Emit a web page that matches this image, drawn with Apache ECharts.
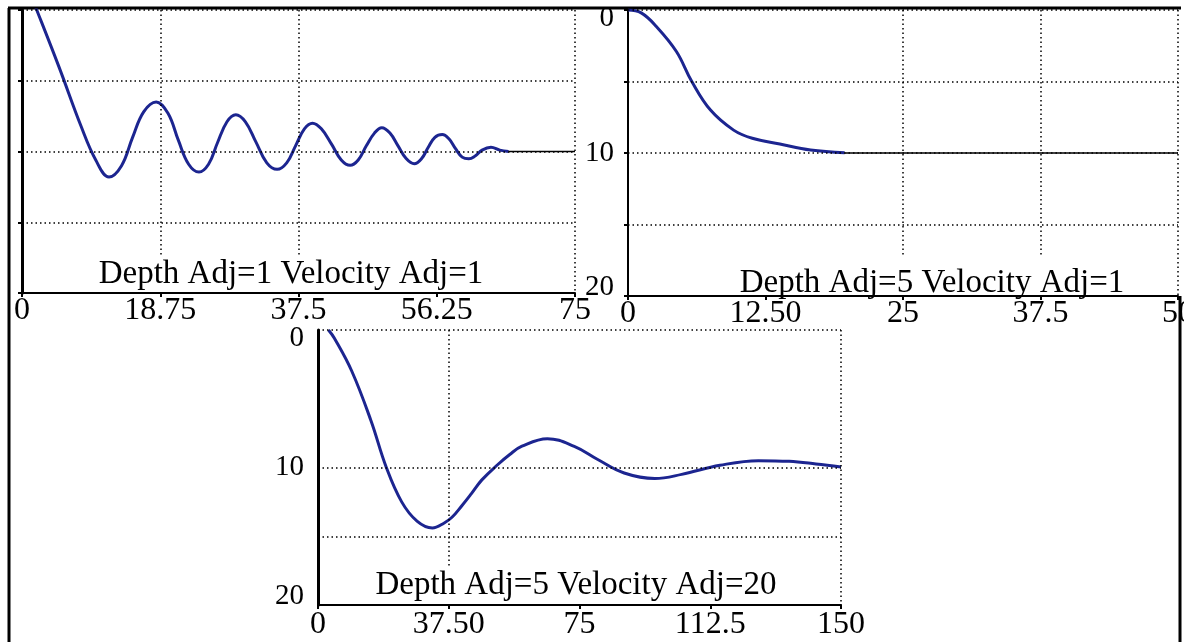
<!DOCTYPE html>
<html>
<head>
<meta charset="utf-8">
<title>Depth Adj / Velocity Adj</title>
<script src="https://cdn.jsdelivr.net/npm/echarts@6/dist/echarts.min.js"></script>
<style>
  html, body { margin: 0; padding: 0; background: #fff; }
  #main { width: 1184px; height: 642px; }
</style>
</head>
<body>
<div id="main"></div>
<script>
// three runs of the same damped response, depth goes down (0 at the top)
var titles = ['Depth Adj=1 Velocity Adj=1', 'Depth Adj=5 Velocity Adj=1', 'Depth Adj=5 Velocity Adj=20'];

// x axis of each panel
var xMax = [75, 50, 150];
var xStep = [18.75, 12.5, 37.5];
var xLabels = [
  ['0', '18.75', '37.5', '56.25', '75'],
  ['0', '12.50', '25', '37.5', '50'],
  ['0', '37.50', '75', '112.5', '150']
];

// dotted grid lines (x positions that are drawn, depths that are drawn)
var vGrid = [[18.75, 37.5], [25, 37.5], [37.5]];
var hGrid = [[0, 5, 10, 15], [0, 5, 10, 15], [0, 10, 15]];

// panel 1 : Depth Adj=1 Velocity Adj=1
var timeA = [0, 2, 5, 8, 10, 11.8, 13.5, 15, 16.5, 18.2, 19.8, 21.2, 22.6, 24, 25.3, 26.5, 27.8, 29,
  30.3, 31.7, 33.2, 34.6, 35.9, 37.1, 38.3, 39.4, 40.6, 42, 43.3, 44.5, 45.6, 46.7, 47.8, 48.8,
  49.9, 51, 52.1, 53.2, 54.2, 55.1, 56, 57, 57.9, 58.8, 59.7, 60.6, 61.5, 62.4, 63.6, 64.8, 66];
var depthA = [-2.6, 0, 4, 8.2, 10.6, 11.8, 11, 9, 7.2, 6.5, 7.3, 9.2, 10.9, 11.45, 10.9, 9.4, 7.9, 7.4,
  7.9, 9.3, 10.8, 11.26, 10.8, 9.6, 8.4, 8, 8.4, 9.5, 10.6, 10.98, 10.6, 9.6, 8.7, 8.32,
  8.7, 9.6, 10.5, 10.87, 10.5, 9.7, 9, 8.8, 9.1, 9.8, 10.4, 10.52, 10.3, 9.9, 9.7, 9.9, 10];
var tailTimeA = [66, 75];
var tailDepthA = [10, 10];

// panel 2 : Depth Adj=5 Velocity Adj=1
var timeB = [0, 1.2, 2.6, 4.4, 5.8, 7.5, 9.6, 11.3, 13.8, 16.6, 19.7];
var depthB = [0, 0.2, 1.17, 2.9, 5, 7, 8.4, 8.97, 9.37, 9.79, 9.98];
var tailTimeB = [19.7, 50];
var tailDepthB = [10, 10];

// panel 3 : Depth Adj=5 Velocity Adj=20
var timeC = [3, 4.7, 9.7, 15.2, 19.6, 24, 28.4, 32.8, 36.1, 38.5, 41.2, 44, 47, 51.5, 55, 58.5, 65.8, 73.5,
  80.1, 87.8, 96.6, 104.3, 115.3, 126.3, 135.1, 142.8, 150];
var depthC = [0, 0.6, 3, 6.6, 10, 12.5, 13.9, 14.4, 14.05, 13.6, 12.8, 11.9, 10.9, 9.8, 9.05, 8.45, 7.9, 8.46,
  9.4, 10.4, 10.8, 10.5, 9.84, 9.5, 9.55, 9.74, 9.96];
var tailTimeC = [];
var tailDepthC = [];

var times = [timeA, timeB, timeC];
var depths = [depthA, depthB, depthC];
var tailTimes = [tailTimeA, tailTimeB, tailTimeC];
var tailDepths = [tailDepthA, tailDepthB, tailDepthC];

var serif = "'Liberation Serif', 'DejaVu Serif', serif";
var blue = '#1c2590';

function pairs(xs, ys) {
  return xs.map(function (x, i) { return [x, ys[i]]; });
}

// vertical lines stop above the caption, right edge and horizontals go all the way
function gridLines(i) {
  var d = [];
  vGrid[i].forEach(function (x) {
    d.push([{ coord: [x, 0] }, { coord: [x, 17.3] }]);
  });
  d.push({ xAxis: xMax[i] });
  hGrid[i].forEach(function (y) {
    d.push({ yAxis: y });
  });
  return d;
}

var grids = [
  { left: 22, top: 10, width: 553, height: 283 },
  { left: 628, top: 10, width: 550, height: 286 },
  { left: 318, top: 330, width: 523, height: 275 }
];
grids.forEach(function (g) { g.outerBoundsMode = 'none'; });

function titleText(txt, x, y) {
  return {
    type: 'text', x: x, y: y, z: 10,
    style: {
      text: txt, font: '33px ' + serif, fill: '#000',
      align: 'center', verticalAlign: 'middle', textAlign: 'center', textVerticalAlign: 'middle'
    }
  };
}

var xAxes = [], yAxes = [], series = [];
for (var i = 0; i < 3; i++) {
  (function (i) {
    xAxes.push({
      gridIndex: i,
      type: 'value',
      position: 'bottom',
      min: 0,
      max: xMax[i],
      interval: xStep[i],
      axisLine: { show: true, onZero: false, lineStyle: { color: '#000', width: 2 } },
      axisTick: { show: true, length: 4, lineStyle: { color: '#000', width: 2 } },
      splitLine: { show: false },
      axisLabel: {
        color: '#000',
        fontFamily: serif,
        fontSize: 32,
        margin: i === 2 ? 4 : 2,
        hideOverlap: false,
        formatter: function (v) { return xLabels[i][Math.round(v / xStep[i])]; }
      }
    });
    yAxes.push({
      gridIndex: i,
      type: 'value',
      inverse: true,
      min: 0,
      max: 20,
      interval: i < 2 ? 5 : 10,
      axisLine: { show: true, onZero: false, lineStyle: { color: '#000', width: i === 1 ? 2 : 3 } },
      axisTick: { show: i < 2, length: 4, lineStyle: { color: '#000', width: 2 } },
      splitLine: { show: false },
      axisLabel: {
        show: i > 0,
        color: '#000',
        fontFamily: serif,
        fontSize: 29,
        margin: 14,
        formatter: function (v) {
          if (v === 0) return '{lo|0}';
          if (v === 20) return '{hi|20}';
          if (v === 10) return '10';
          return '';
        },
        rich: {
          lo: { fontFamily: serif, fontSize: 29, color: '#000', padding: [16, 0, 0, 0] },
          hi: { fontFamily: serif, fontSize: 29, color: '#000', padding: [0, 0, 18, 0] }
        }
      }
    });
    series.push({
      type: 'line',
      xAxisIndex: i,
      yAxisIndex: i,
      data: pairs(times[i], depths[i]),
      smooth: 0.4,
      symbol: 'none',
      clip: true,
      lineStyle: { color: blue, width: 3 },
      markLine: {
        silent: true,
        symbol: 'none',
        label: { show: false },
        lineStyle: { color: '#000', width: 1.5, type: [1.5, 3] },
        data: gridLines(i)
      }
    });
    series.push({
      type: 'line',
      xAxisIndex: i,
      yAxisIndex: i,
      data: pairs(tailTimes[i], tailDepths[i]),
      symbol: 'none',
      lineStyle: { color: '#000', width: 1.5 }
    });
  })(i);
}

var chart = echarts.init(document.getElementById('main'), null, { renderer: 'canvas' });
chart.setOption({
  animation: false,
  backgroundColor: '#fff',
  grid: grids,
  xAxis: xAxes,
  yAxis: yAxes,
  series: series,
  graphic: [
    titleText(titles[0], 291, 274),
    titleText(titles[1], 932, 283),
    titleText(titles[2], 576, 585),
    // outer frame
    { type: 'line', shape: { x1: 8, y1: 8, x2: 1181, y2: 8 }, style: { stroke: '#000', lineWidth: 3 } },
    { type: 'line', shape: { x1: 9, y1: 8, x2: 9, y2: 642 }, style: { stroke: '#000', lineWidth: 3 } },
    { type: 'line', shape: { x1: 1180, y1: 296, x2: 1180, y2: 642 }, style: { stroke: '#000', lineWidth: 3 } }
  ]
});
</script>
</body>
</html>
